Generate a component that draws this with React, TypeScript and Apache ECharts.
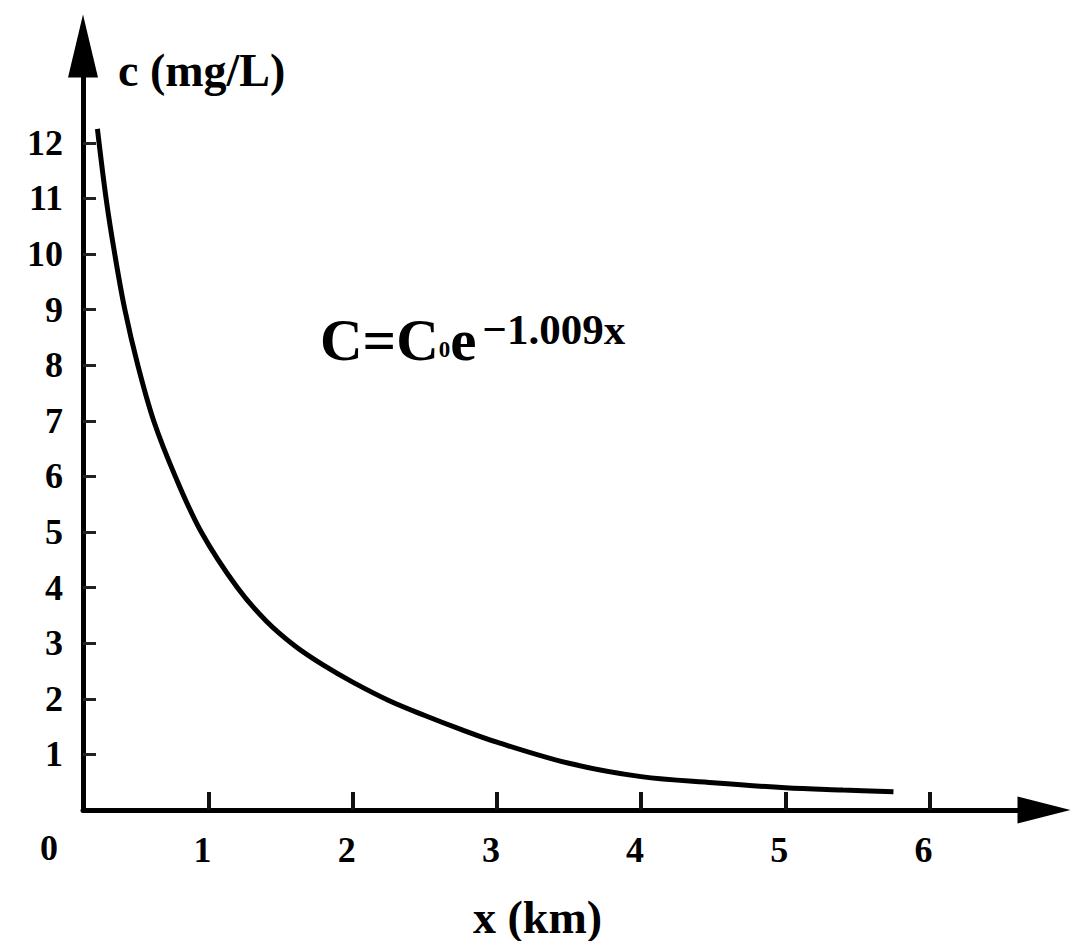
import React, { useEffect, useRef } from "react";
import * as echarts from "echarts";

const distanceKm = [0.23, 0.29, 0.35, 0.42, 0.51, 0.62, 0.77, 0.95, 1.2, 1.4, 1.6, 1.8, 2.0, 2.25, 2.5, 2.75, 3.0, 3.5, 4.0, 4.5, 5.0, 5.4, 5.75];
const concentration = [12.25, 11.0, 10.0, 9.0, 8.0, 7.0, 6.0, 5.0, 4.0, 3.4, 2.95, 2.6, 2.3, 1.97, 1.7, 1.45, 1.22, 0.84, 0.6, 0.49, 0.4, 0.36, 0.33];
const xTickValues = [1, 2, 3, 4, 5, 6];
const yTickValues = [1, 2, 3, 4, 5, 6, 7, 8, 9, 10, 11, 12];
const originLabel = "0";
const xAxisName = "x (km)";
const yAxisName = "c (mg/L)";
const formulaText = "{m|C=C}{s|0}{m|e}{p|−1.009x}";

const SERIF = "'Liberation Serif', 'Times New Roman', serif";

export default function App() {
  const ref = useRef<HTMLDivElement>(null);
  useEffect(() => {
    if (!ref.current) return;
    const chart = echarts.init(ref.current, undefined, { renderer: "svg" });
    const points = distanceKm.map((x, i) => [x, concentration[i]]);
    chart.setOption({
      animation: false,
      backgroundColor: "#ffffff",
      grid: {
        left: 83,
        right: 27,
        top: 46,
        bottom: 131,
        containLabel: false,
        outerBoundsMode: "none",
      },
      xAxis: {
        type: "value",
        min: 0.13,
        max: 6.794,
        splitLine: { show: false },
        axisLine: {
          show: true,
          onZero: false,
          symbol: ["none", "triangle"],
          symbolSize: [27, 53],
          lineStyle: { color: "#000", width: 5 },
        },
        axisTick: {
          show: true,
          inside: true,
          length: 18,
          customValues: xTickValues,
          lineStyle: { color: "#111", width: 4 },
        },
        axisLabel: {
          customValues: xTickValues,
          margin: 22,
          color: "#000",
          fontSize: 36,
          fontWeight: "bold",
          fontFamily: SERIF,
          padding: [0, 12, 0, 0],
        },
        name: xAxisName,
        nameLocation: "middle",
        nameGap: 84,
        nameTextStyle: {
          color: "#000",
          fontSize: 46,
          fontWeight: "bold",
          fontFamily: SERIF,
          padding: [0, 52, 0, 0],
        },
      },
      yAxis: {
        type: "value",
        min: 0,
        max: 13.74,
        splitLine: { show: false },
        axisLine: {
          show: true,
          onZero: false,
          symbol: ["none", "triangle"],
          symbolSize: [30, 63],
          lineStyle: { color: "#000", width: 5 },
        },
        axisTick: {
          show: true,
          inside: true,
          length: 13,
          customValues: yTickValues,
          lineStyle: { color: "#222", width: 3 },
        },
        axisLabel: {
          customValues: yTickValues,
          margin: 20,
          color: "#000",
          fontSize: 36,
          fontWeight: "bold",
          fontFamily: SERIF,
        },
        name: yAxisName,
        nameLocation: "end",
        nameGap: -24,
        nameTextStyle: {
          color: "#000",
          fontSize: 46,
          fontWeight: "bold",
          fontFamily: SERIF,
          align: "left",
          verticalAlign: "middle",
          padding: [0, 0, 0, 35],
        },
      },
      graphic: [
        {
          type: "text",
          left: 40,
          top: 830,
          style: {
            text: originLabel,
            fill: "#000",
            fontSize: 36,
            fontWeight: "bold",
            fontFamily: SERIF,
          },
        },
        {
          type: "text",
          left: 320,
          top: 308,
          style: {
            text: formulaText,
            rich: {
              m: { fill: "#000", fontSize: 59, fontWeight: "bold", fontFamily: SERIF, lineHeight: 64 },
              s: { fill: "#000", fontSize: 23, fontWeight: "bold", fontFamily: SERIF, lineHeight: 23, verticalAlign: "bottom", padding: [0, 0, 11, 0] },
              p: { fill: "#000", fontSize: 43, fontWeight: "bold", fontFamily: SERIF, lineHeight: 43, verticalAlign: "top", padding: [0, 0, 0, 6] },
            },
          },
        },
      ],
      series: [
        {
          type: "line",
          data: points,
          smooth: 0.35,
          symbol: "none",
          lineStyle: { color: "#000", width: 5 },
        },
      ],
    });
    return () => chart.dispose();
  }, []);
  return (
    <div
      ref={ref}
      style={{ position: "absolute", left: 0, top: 0, width: 1071, height: 941 }}
    />
  );
}
